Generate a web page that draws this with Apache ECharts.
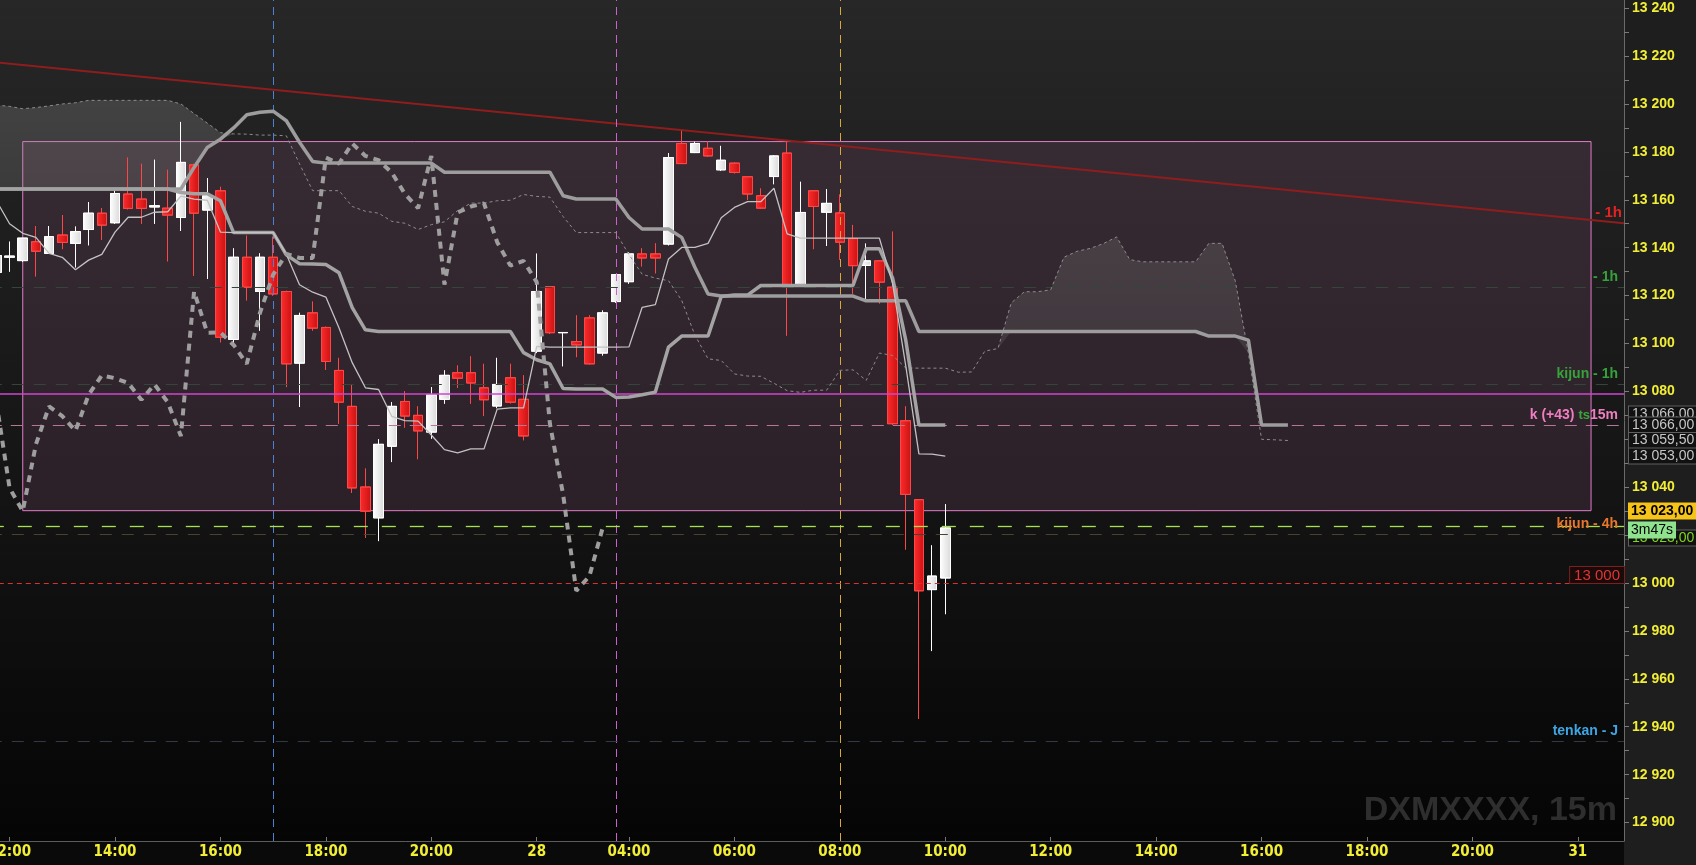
<!DOCTYPE html>
<html><head><meta charset="utf-8">
<script src="https://cdn.jsdelivr.net/npm/echarts@6/dist/echarts.min.js"></script>
<style>html,body{margin:0;padding:0;background:#1e1e1e;overflow:hidden}#c{width:1696px;height:865px}</style>
</head><body><div id="c"></div>
<script>
// ---- sessions / categories (15 minute bars) ----
const sessions = [['27','11:45',41],['28','02:15',79],['31','02:15',4]];

// ---- candles (first bar is the partly visible 11:45 bar) ----
const open = [13129.7,13136,13134.6,13142.5,13137.6,13145.3,13141.8,13147.6,13154.4,13150.4,13162.4,
13160.3,13157,13156.5,13152.6,13174.6,13155.7,13163.75,13101.7,13136,13121.7,
13136,13121.7,13091.8,13112.8,13106.7,13088.75,13073.75,13040.1,13027.2,13057.1,
13075.8,13070,13063,13076.7,13087.8,13087.8,13081.5,13073.9,13085.7,13076.7,
13096.8,13123.75,13104.5,13100.8,13110.7,13096,13117.5,13125.8,13137.4,13137.4,
13141.5,13183.5,13179.7,13181.5,13172.5,13175.3,13169.6,13161.7,13169.7,13179.5,
13124.6,13163.75,13154.8,13154.5,13143.8,13132.6,13134.5,13123.5,13067.75,13034.8,
12997.25,13002.1];
const close = [13136.7,13136.5,13144,13138.5,13144.6,13142.2,13146.7,13154.4,13149.4,13162.6,13156.4,
13156.4,13157.5,13153.6,13175.6,13154.4,13161.7,13102.6,13136,13123.5,13136,
13120.7,13091.5,13111.7,13106.4,13092.5,13075.5,13039.7,13030,13057.9,13073.75,
13069.7,13063.5,13078.6,13086.7,13085.5,13083.5,13076.5,13082.9,13075.5,13061.4,
13121.7,13104.5,13104.6,13099.4,13091.5,13112.8,13128.75,13137.4,13135.7,13135.7,
13177.6,13175.1,13183.5,13178.3,13176.5,13171.4,13162.4,13156.5,13178.3,13124.6,
13154.7,13157.2,13158.5,13142.3,13132.5,13134.5,13125.6,13066.5,13037,12996.75,
13002.9,13023];
const low = [13129.5,13130,13134,13128,13137.5,13139.4,13131.8,13141,13143.3,13150,13156,
13150,13150,13134.3,13147,13128.3,13127,13100.5,13100.3,13118,13105.4,
13120,13081.8,13073.5,13105.4,13089,13066.5,13037.6,13018.9,13017.5,13050.5,
13064.9,13051.7,13060.3,13074.9,13081.4,13074.9,13069.7,13073,13075,13059.6,
13096,13104,13090.5,13094.3,13091.3,13095,13117,13125,13132.2,13129.3,
13141,13175,13179.5,13178,13172,13171,13160,13156.3,13166.5,13103.3,
13124.5,13139.4,13140.7,13135,13120.8,13118.3,13116.7,13066,13014,12943.25,
12971.6,12987];
const high = [13137,13142.5,13144,13149,13149,13153.6,13148.8,13159,13156.5,13164,13177.6,
13175,13176.7,13172.5,13192.5,13175,13169,13165.4,13139.7,13145,13137.6,
13144.6,13122,13112.8,13117.5,13107,13094,13082.9,13047.8,13060,13075.5,
13080,13073.75,13081.8,13088.75,13090.8,13094.6,13091.5,13094,13091.5,13086.7,
13137.5,13124,13104.8,13111.7,13111.7,13113.75,13129,13138,13139.7,13141.8,
13179.5,13188.75,13184.2,13184.3,13182.5,13175.5,13169.8,13164.7,13178.5,13184.3,
13167.5,13164,13164.5,13162.2,13149.5,13141.7,13134.7,13146.7,13073.75,13035,
13015.7,13032.9];

// ---- ichimoku lines ----
const tenkan = [13159.6,13150,13146,13144.3,13137.6,13136,13130.8,13134.8,13137.2,13146.5,13152.7,
13152.7,13154.8,13155,13161.5,13160.3,13159.8,13146.5,13146.3,13146.3,13146.3,
13146.3,13137.3,13124.5,13121.4,13119.4,13106.5,13092,13081.5,13080.8,13069.6,
13067.8,13067.6,13061.8,13055.7,13054.3,13056,13056,13072.6,13073.1,13073.1,
13098.8,13098.5,13098.5,13098.5,13098.5,13098.5,13098.5,13098.6,13115.1,13116.2,
13135.3,13140.1,13140.1,13141.8,13152.5,13156.8,13159.2,13159.2,13164.8,13145.8,
13144,13144,13144,13144,13144,13144,13144,13125.1,13090.7,13053.9,
13053.8,13053];
const kijun = [13164.5,13164.5,13164.5,13164.5,13164.5,13164.5,13164.5,13164.5,13164.5,13164.5,13164.5,
13164.5,13164.5,13164.5,13163,13162.5,13162.5,13159.6,13146.3,13146.3,13146.3,
13146.3,13137,13133.3,13133.2,13133,13129.5,13115,13105.7,13105,13105,
13105,13105,13105,13105,13105,13105,13105,13105,13105,13096.2,
13093.2,13091.5,13081.2,13081,13081,13081,13077.5,13077.7,13078.6,13079.7,
13098.5,13103.1,13103.1,13103.1,13119.6,13120.2,13120.2,13124.2,13124.2,13124.2,
13124.2,13124.2,13124.2,13124.2,13124.2,13139.6,13139.6,13127.4,13101.4,13066,
13066,13066];
const senkouA = [13199.5,13199,13198,13198.5,13199.2,13200,13200.5,13201.5,13201.5,13201.5,13201.5,
13201.5,13201.5,13201.5,13200,13196,13192,13188,13187.5,13187.4,13187,
13187,13186.7,13175,13163.8,13163.8,13163.8,13157.2,13155.2,13154.4,13151,
13150.2,13147.6,13149.6,13150.8,13155.5,13158.6,13158.6,13159.6,13159.8,13162.2,
13161.4,13161.1,13153,13146.3,13146.3,13146.3,13146.3,13137.1,13128.9,13127.3,
13126.2,13118,13103.5,13093.6,13092.9,13087.3,13086.4,13086.3,13083.4,13080.3,
13079.6,13080.5,13080.5,13088.8,13089,13084.6,13096,13095,13089.8,13089.7,
13089.7,13089.7,13088,13088.1,13096.8,13097.9,13116.9,13121.6,13121.6,13122.4,
13136,13138.5,13139.7,13141.7,13144.5,13135,13134.1,13134.1,13134.1,13134.1,
13134.1,13141.8,13141.8,13126.2,13096,13060,13059.8,13059.5];
const senkouB = [13164.5,13164.5,13164.5,13164.5,13164.5,13164.5,13164.5,13164.5,13164.5,13164.5,13164.5,
13164.5,13164.5,13164.5,13164.5,13173.5,13181.8,13185.3,13190,13195.5,13196.5,
13197,13193,13184,13176,13175.3,13175.3,13175.3,13175.3,13175.3,13175.3,
13175.3,13175.3,13175.3,13171.5,13171.5,13171.5,13171.5,13171.5,13171.5,13171.5,
13171.5,13171.5,13161.7,13160.3,13160.3,13160.3,13160.3,13152.6,13147.8,13147.8,
13147.8,13144.3,13131.8,13120.7,13119.8,13119.8,13119.8,13119.8,13119.8,13119.8,
13119.8,13119.8,13119.8,13119.8,13119.8,13117.8,13117.8,13117.8,13117.8,13105,
13105,13105,13105,13105,13105,13105,13105,13105,13105,13105,
13105,13105,13105,13105,13105,13105,13105,13105,13105,13105,
13105,13103.1,13103.1,13103.1,13101.4,13066,13066,13066];
const chikouShift = 26;

// ---- levels / annotations ----
const trendLine = [13217.6, 13150.2];            // start / end of the red 1h trend line
const boxRange = {from: '27 12:15', to: '31 02:30', top: 13184.3, bottom: 13030.2};
const vLines = ['27 17:00', '28 03:45', '28 08:00'];
const yTickLabels = [12900,12920,12940,12960,12980,13000,13020,13040,13060,13080,13100,13120,13140,13160,13180,13200,13220,13240];
const yMinorTicks = [12900,12910,12920,12930,12940,12950,12960,12970,12980,12990,13000,13010,13020,13030,13040,13050,13060,13070,13080,13090,13100,13110,13120,13130,13140,13150,13160,13170,13180,13190,13200,13210,13220,13230,13240];
const lvl = {tsMagenta: 13078.9, k15: 13066, green1h: 13123.5, kijun1h: 13083, price: 13023.75, kijun4h: 13020.3, round: 13000, tenkanJ: 12934};
const priceLast = 13023;

// ---- build categories ----
const categories = [], catLabel = [];
sessions.forEach((s, si) => {
  const [d, st, n] = s;
  let m = parseInt(st.slice(0,2))*60 + parseInt(st.slice(3));
  for (let k = 0; k < n; k++, m += 15) {
    const hh = String(Math.floor(m/60)).padStart(2,'0'), mm = String(m%60).padStart(2,'0');
    categories.push(d + ' ' + hh + ':' + mm);
    let lab = '';
    if (k === 0 && si > 0) lab = d;
    else if (mm === '00' && (Math.floor(m/60) % 2 === 0)) lab = hh + ':' + mm;
    catLabel.push(lab);
  }
});
const N = categories.length;
const pad = arr => arr.concat(new Array(Math.max(0, N - arr.length)).fill('-'));
const candleData = open.map((o, i) => [o, close[i], low[i], high[i]]);
const chikou = close.slice(chikouShift);
const cloudBase = senkouA.map((a, i) => Math.min(a, senkouB[i]));
const cloudBull = senkouA.map((a, i) => a > senkouB[i] ? +(a - senkouB[i]).toFixed(2) : 0);
const fmt = v => String(v).replace(/\B(?=(\d{3})+(?!\d))/g, ' ');
const FONT = "'Liberation Sans', Arial, sans-serif";

const G = echarts.graphic.LinearGradient;
const chart = echarts.init(document.getElementById('c'), null, {renderer: 'canvas'});

const hLine = (v, color, type, width, label) => ({
  yAxis: v,
  lineStyle: {color, type, width},
  label: label ? Object.assign({show: true, position: 'insideEndTop', distance: [6, 3], fontFamily: FONT}, label) : {show: false}
});

chart.setOption({
  animation: false,
  backgroundColor: '#1e1e1e',
  grid: {left: -10.2, right: 72, top: 0, bottom: 24, show: true, borderWidth: 0, containLabel: false, outerBoundsMode: 'none',
    backgroundColor: new G(0, 0, 0, 1, [{offset: 0, color: '#272727'}, {offset: 0.5, color: '#171717'}, {offset: 1, color: '#050505'}])},
  xAxis: [{
    type: 'category', data: categories, boundaryGap: true,
    axisLine: {show: true, onZero: false, lineStyle: {color: '#5c5c5c'}},
    axisTick: {show: true, inside: true, length: 4, alignWithLabel: true, lineStyle: {color: '#777'},
      interval: (i) => catLabel[i] !== ''},
    axisLabel: {interval: (i) => catLabel[i] !== '', formatter: (v, i) => catLabel[i],
      color: '#f2ee34', fontWeight: 'bold', fontSize: 15, margin: 4,
      fontFamily: "'Liberation Sans Narrow', 'DejaVu Sans Condensed', sans-serif"},
    splitLine: {show: false}
  }, {
    type: 'value', min: 0, max: 1, show: false
  }],
  yAxis: {
    type: 'value', position: 'right', min: 12892.3, max: 13243.4, scale: true,
    axisLine: {show: true, onZero: false, lineStyle: {color: '#6a6a6a'}},
    axisTick: {show: true, length: 5, lineStyle: {color: '#7a7a7a'}, customValues: yMinorTicks},
    axisLabel: {customValues: yTickLabels, formatter: v => fmt(v), color: '#f2ee34', fontWeight: 'bold',
      fontSize: 14, margin: 8, fontFamily: FONT},
    splitLine: {show: false}
  },
  series: [
    // cloud fill
    {type: 'line', data: pad(cloudBase), stack: 'cloud', symbol: 'none', lineStyle: {opacity: 0}, silent: true, z: 1},
    {type: 'line', data: pad(cloudBull), stack: 'cloud', symbol: 'none', lineStyle: {opacity: 0}, silent: true, z: 1,
      areaStyle: {color: new G(0, 0, 0, 1, [{offset: 0, color: 'rgba(140,140,140,0.42)'}, {offset: 1, color: 'rgba(140,140,140,0.18)'}])}},
    // box + levels
    {type: 'line', data: pad([]), silent: true, z: 2,
      markArea: {silent: true, itemStyle: {color: 'rgba(125,75,110,0.24)', borderColor: '#e27bc8', borderWidth: 1},
        data: [[{xAxis: boxRange.from, yAxis: boxRange.top}, {xAxis: boxRange.to, yAxis: boxRange.bottom}]]},
      markLine: {silent: true, symbol: 'none', animation: false,
        data: [
          {xAxis: vLines[0], lineStyle: {color: '#4d7fd6', type: [8, 6], width: 1}, label: {show: false}},
          {xAxis: vLines[1], lineStyle: {color: '#cf5fd0', type: [8, 6], width: 1}, label: {show: false}},
          {xAxis: vLines[2], lineStyle: {color: '#d9a83a', type: [8, 6], width: 1}, label: {show: false}},
          hLine(lvl.green1h, '#34463a', [12, 10], 1, {formatter: '- 1h', color: '#36a33a', fontSize: 14, fontWeight: 'bold'}),
          hLine(lvl.kijun1h, '#34463a', [12, 10], 1, {formatter: 'kijun - 1h', color: '#36a33a', fontSize: 14, fontWeight: 'bold'}),
          hLine(lvl.tsMagenta, '#cf45d0', 'solid', 1.5, null),
          hLine(lvl.k15, '#b87598', [12, 9], 1, {formatter: '{p|k (+43) }{g|ts}{p|15m}',
            rich: {p: {color: '#ee7ec0', fontSize: 14, fontWeight: 'bold', fontFamily: FONT}, g: {color: '#3aa63a', fontSize: 13, fontWeight: 'bold', fontFamily: FONT}}}),
          hLine(lvl.kijun4h, '#4a4033', [12, 10], 1, {formatter: 'kijun - 4h', color: '#e8772d', fontSize: 14, fontWeight: 'bold'}),
          hLine(lvl.price, '#a6e04a', [14, 14], 1.3, null),
          hLine(lvl.round, '#db3030', [5, 4], 1, {formatter: '13 000', color: '#e03535', fontSize: 15, backgroundColor: '#1a0a0a',
            borderColor: '#7a2020', borderWidth: 1, padding: [1, 4, 0, 4], distance: [0, 0]}),
          hLine(lvl.tenkanJ, '#313846', [12, 10], 1, {formatter: 'tenkan - J', color: '#3fa6e6', fontSize: 14, fontWeight: 'bold'})
        ]}},
    // trend line (1h)
    {type: 'line', xAxisIndex: 1, data: [[0, trendLine[0]], [1, trendLine[1]]], symbol: 'none', silent: true, z: 3,
      lineStyle: {color: '#8f1d1d', width: 2},
      endLabel: {show: true, formatter: '- 1h', color: '#e52222', fontSize: 15, fontWeight: 'bold', fontFamily: FONT,
        align: 'right', offset: [-10, -10]}},
    // candles
    {type: 'candlestick', data: candleData, barWidth: 10, silent: true, z: 4,
      itemStyle: {
        color: new G(0, 0, 1, 0, [{offset: 0, color: '#ffffff'}, {offset: 1, color: '#d9d9d9'}]),
        color0: new G(0, 0, 1, 0, [{offset: 0, color: '#ff2c2c'}, {offset: 1, color: '#c81212'}]),
        borderColor: '#ffffff', borderColor0: '#ff4646', borderWidth: 1
      }},
    // ichimoku
    {name: 'SSA', type: 'line', data: pad(senkouA), symbol: 'none', silent: true, z: 5,
      lineStyle: {color: '#8c8c8c', width: 1, type: [3, 3]}},
    {name: 'SSB', type: 'line', data: pad(senkouB), symbol: 'none', silent: true, z: 5,
      lineStyle: {color: '#9d9d9d', width: 3.5}},
    {name: 'Kijun', type: 'line', data: pad(kijun), symbol: 'none', silent: true, z: 6,
      lineStyle: {color: '#a3a3a3', width: 3.5}},
    {name: 'Tenkan', type: 'line', data: pad(tenkan), symbol: 'none', silent: true, z: 6,
      lineStyle: {color: '#c2c2c2', width: 1.3}},
    {name: 'Chikou', type: 'line', data: pad(chikou), symbol: 'none', silent: true, z: 7,
      lineStyle: {color: '#9e9e9e', width: 4, type: [7, 6]}}
  ]
});

// right-axis value boxes, placed through the y scale
const yp = v => chart.convertToPixel({yAxisIndex: 0}, v);
const box = (txt, v, dy, o) => ({
  type: 'text', silent: true, z: 100, x: 1629, y: yp(v) + dy,
  style: Object.assign({text: txt, fill: '#c6c6c6', font: '14px ' + FONT, verticalAlign: 'middle',
    backgroundColor: '#111111', borderColor: '#5f5f5f', borderWidth: 1, padding: [1, 3, 0, 3]}, o || {})
});
chart.setOption({graphic: [
  {type: 'rect', silent: true, z: -5, shape: {x: 0, y: 842, width: 1624, height: 23}, style: {fill: '#0a0a0a'}},
  {type: 'text', silent: true, z: 1, x: 1617, y: 811, style: {text: 'DXMXXXX, 15m', fill: '#2e2e2e',
    font: 'bold 34px ' + FONT, align: 'right', verticalAlign: 'middle'}},
  box('13 066,00', kijun[kijun.length - 1], -11),
  box('13 066,00', senkouB[senkouB.length - 1], 0),
  box('13 059,50', senkouA[senkouA.length - 1], 0),
  box('13 053,00', tenkan[tenkan.length - 1], 0),
  box('13 023,00', priceLast, 10, {fill: '#7fd321'}),
  box('13 023,00', priceLast, -17, {fill: '#000', font: 'bold 14px ' + FONT, backgroundColor: '#f6c419', borderColor: '#f6c419', padding: [1, 2, 0, 2]}),
  box('3m47s', priceLast, 2, {fill: '#000', backgroundColor: '#8fe38f', borderColor: '#8fe38f', padding: [1, 2, 0, 2]})
]});
</script></body></html>
